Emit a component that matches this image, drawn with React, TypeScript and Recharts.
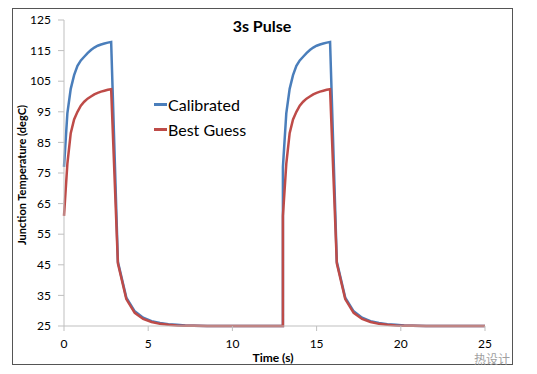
import React from "react"
import { LineChart, XAxis, YAxis, Line } from "recharts"

// time in seconds, two 3s pulses
const timeS = [
  0, 0.2, 0.4, 0.6, 0.8, 1, 1.2, 1.4, 1.6, 1.8, 2, 2.2, 2.4, 2.6, 2.8,
  3.2, 3.7, 4.2, 4.7, 5.2, 5.7, 6.2, 6.7, 7.2, 7.7, 8.5, 9.5, 10.5, 11.5, 12.5, 13,
  13, 13.2, 13.4, 13.6, 13.8, 14, 14.2, 14.4, 14.6, 14.8, 15, 15.2, 15.4, 15.6, 15.8,
  16.2, 16.7, 17.2, 17.7, 18.2, 18.7, 19.2, 19.7, 20.2, 20.7, 21.5, 22.5, 23.5, 24.5, 25,
]

const calibrated = [
  77, 94.5, 102.5, 107, 110, 111.8, 113, 114.2, 115.2, 116, 116.6, 117, 117.3, 117.6, 117.8,
  46, 34.3, 29.8, 27.7, 26.6, 26, 25.6, 25.4, 25.2, 25.1, 25, 25, 25, 25, 25, 25,
  77, 94.5, 102.5, 107, 110, 111.8, 113, 114.2, 115.2, 116, 116.6, 117, 117.3, 117.6, 117.8,
  46, 34.3, 29.8, 27.7, 26.6, 26, 25.6, 25.4, 25.2, 25.1, 25, 25, 25, 25, 25,
]

const bestGuess = [
  61, 78, 88, 92.5, 95, 97, 98.3, 99.3, 100, 100.7, 101.2, 101.6, 101.9, 102.2, 102.4,
  45.5, 33.8, 29.3, 27.3, 26.3, 25.7, 25.4, 25.2, 25.1, 25.05, 25, 25, 25, 25, 25, 25,
  61, 78, 88, 92.5, 95, 97, 98.3, 99.3, 100, 100.7, 101.2, 101.6, 101.9, 102.2, 102.4,
  45.5, 33.8, 29.3, 27.3, 26.3, 25.7, 25.4, 25.2, 25.1, 25.05, 25, 25, 25, 25, 25,
]

const xTicks = [0, 5, 10, 15, 20, 25]
const yTicks = [25, 35, 45, 55, 65, 75, 85, 95, 105, 115, 125]

const BLUE = "#4a7ebb"
const RED = "#be4b48"
const FONT = "Lato, 'Open Sans', sans-serif"

const data = timeS.map((t, i) => ({ t, calibrated: calibrated[i], bestGuess: bestGuess[i] }))

const legendItems = [
  { name: "Calibrated", color: BLUE },
  { name: "Best Guess", color: RED },
]

function LegendBox() {
  return (
    <div style={{ position: "absolute", left: 154, top: 92, fontFamily: FONT, fontSize: 16, color: "#000" }}>
      {legendItems.map((it) => (
        <div key={it.name} style={{ display: "flex", alignItems: "center", height: 25 }}>
          <span style={{ display: "inline-block", width: 13, height: 3, background: it.color, marginRight: 1 }} />
          <span>{it.name}</span>
        </div>
      ))}
    </div>
  )
}

export default function App() {
  const tickStyle = { fontFamily: FONT, fontSize: 12, fill: "#000" }
  return (
    <div style={{ position: "absolute", left: 0, top: 0, width: 537, height: 374, background: "#fff" }}>
      <LineChart width={537} height={374} data={data} margin={{ top: 20, right: 52, bottom: 0, left: 0 }}>
        <XAxis
          dataKey="t"
          type="number"
          domain={[0, 25]}
          ticks={xTicks}
          height={48}
          stroke="#bfbfbf"
          tickSize={5}
          tickMargin={8}
          tick={tickStyle}
        />
        <YAxis
          type="number"
          domain={[25, 125]}
          ticks={yTicks}
          width={64}
          stroke="#bfbfbf"
          tickSize={6}
          tickMargin={7}
          tick={tickStyle}
        />
        <Line
          type="linear"
          dataKey="calibrated"
          name="Calibrated"
          stroke={BLUE}
          strokeWidth={2.5}
          dot={false}
          isAnimationActive={false}
        />
        <Line
          type="linear"
          dataKey="bestGuess"
          name="Best Guess"
          stroke={RED}
          strokeWidth={2.5}
          dot={false}
          isAnimationActive={false}
        />
      </LineChart>

      <LegendBox />
      <div
        style={{
          position: "absolute", left: 12, top: 8, width: 499, height: 355,
          border: "1.5px solid #555", pointerEvents: "none",
        }}
      />
      <div
        style={{
          position: "absolute", left: 162, top: 15, width: 200, textAlign: "center",
          fontFamily: FONT, fontWeight: 700, fontSize: 16, lineHeight: "22px",
        }}
      >
        3s Pulse
      </div>
      <div
        style={{
          position: "absolute", left: 22, top: 175, width: 200, marginLeft: -100, marginTop: -8,
          transform: "rotate(-90deg)", textAlign: "center",
          fontFamily: FONT, fontWeight: 700, fontSize: 11, lineHeight: "16px", whiteSpace: "nowrap",
        }}
      >
        Junction Temperature (degC)
      </div>
      <div
        style={{
          position: "absolute", left: 223, top: 349, width: 100, textAlign: "center",
          fontFamily: FONT, fontWeight: 700, fontSize: 12, lineHeight: "18px",
        }}
      >
        Time (s)
      </div>
      <div
        style={{
          position: "absolute", left: 474, top: 353, fontSize: 12, color: "#a0a0a0",
          fontFamily: "'Noto Sans CJK SC', sans-serif", lineHeight: "12px",
        }}
      >
        热设计
      </div>
    </div>
  )
}
